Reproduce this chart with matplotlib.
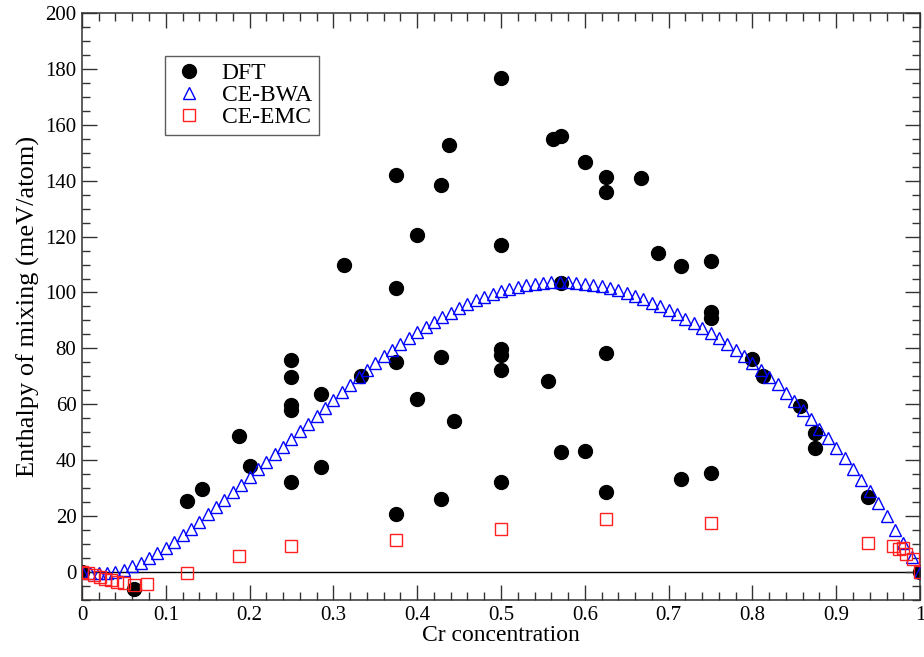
import matplotlib.pyplot as plt
import numpy as np

# DFT enthalpies of mixing (meV/atom)
dft_x = [0.0, 0.0625, 0.125, 0.1429, 0.1875, 0.2, 0.25, 0.25, 0.25, 0.25, 0.25,
         0.2857, 0.2857, 0.3125, 0.3333, 0.375, 0.375, 0.375, 0.375, 0.4, 0.4,
         0.4286, 0.4286, 0.4286, 0.4375, 0.4444, 0.5, 0.5, 0.5, 0.5, 0.5, 0.5,
         0.5556, 0.5625, 0.5714, 0.5714, 0.5714, 0.6, 0.6, 0.625, 0.625, 0.625, 0.625,
         0.6667, 0.6875, 0.7143, 0.7143, 0.75, 0.75, 0.75, 0.75, 0.8, 0.8125,
         0.8571, 0.875, 0.875, 0.9375, 1.0]
dft_y = [0.0, -6.0, 25.5, 29.6, 48.5, 38.0, 75.8, 69.9, 59.6, 58.0, 32.3,
         63.6, 37.4, 110.0, 70.3, 142.0, 101.5, 75.3, 20.7, 120.5, 61.8,
         138.6, 77.0, 26.0, 152.6, 53.9, 176.7, 117.1, 79.9, 77.5, 72.3, 32.3,
         68.3, 155.0, 155.8, 103.5, 42.9, 146.7, 43.2, 141.2, 135.8, 78.5, 28.5,
         141.0, 114.2, 109.6, 33.2, 111.1, 93.0, 91.0, 35.6, 76.3, 70.1,
         59.4, 49.6, 44.3, 27.0, 0.0]

# CE-BWA curve, one point every 0.01
bwa_x = np.round(np.arange(0, 101) * 0.01, 2)
bwa_y = [0.0, -0.3, -0.5, -0.4, 0.0, 0.8, 2.0, 3.4, 5.0, 6.7,
         8.6, 10.8, 13.1, 15.5, 18.0, 20.6, 23.2, 25.9, 28.6, 31.3,
         34.0, 36.7, 39.4, 42.1, 44.8, 47.5, 50.3, 53.1, 55.9, 58.7,
         61.5, 64.3, 67.0, 69.7, 72.3, 74.8, 77.2, 79.5, 81.7, 83.8,
         85.8, 87.7, 89.5, 91.2, 92.8, 94.3, 95.8, 97.2, 98.5, 99.6,
         100.6, 101.4, 102.1, 102.7, 103.2, 103.5, 103.7, 103.8, 103.7, 103.5,
         103.2, 102.8, 102.3, 101.6, 100.8, 99.9, 98.8, 97.6, 96.3, 95.0,
         93.6, 92.2, 90.6, 89.0, 87.3, 85.6, 83.6, 81.5, 79.3, 77.1,
         74.9, 72.4, 69.8, 67.1, 64.2, 61.2, 58.0, 54.7, 51.3, 47.9,
         44.5, 40.8, 37.0, 33.0, 29.0, 24.6, 20.0, 15.2, 10.3, 5.2,
         0.0]

# CE-EMC points
emc_x = [0.0, 0.007, 0.014, 0.021, 0.028, 0.035, 0.042, 0.05, 0.0625, 0.078,
         0.125, 0.1875, 0.25, 0.375, 0.5, 0.625, 0.75,
         0.9375, 0.968, 0.975, 0.98, 0.983, 0.992, 1.0]
emc_y = [0.0, -0.4, -1.2, -1.9, -2.5, -3.0, -3.4, -3.8, -4.6, -4.4,
         -0.3, 5.9, 9.4, 11.5, 15.3, 19.0, 17.4,
         10.4, 9.4, 8.3, 8.7, 6.4, 4.5, 0.0]

plt.rcParams['font.family'] = ['Liberation Serif', 'DejaVu Serif']

fig = plt.figure(figsize=(9.24, 6.57), dpi=100)
ax = fig.add_axes([0.0887, 0.0868, 0.907, 0.8935])

ax.axhline(0, color='black', linewidth=1.0, zorder=1)

ax.plot(dft_x, dft_y, 'o', color='black', markersize=10, label='DFT', zorder=2)
ax.plot(bwa_x, bwa_y, '^', color='blue', markerfacecolor='none', markersize=8.5,
        markeredgewidth=1.0, label='CE-BWA', zorder=3)
ax.plot(emc_x, emc_y, 's', color='#ff2020', markerfacecolor='none', markersize=8.5,
        markeredgewidth=1.0, label='CE-EMC', zorder=4)

ax.set_xlim(0, 1)
ax.set_ylim(-10, 200)
ax.set_xticks(np.arange(0, 1.01, 0.1))
ax.set_xticklabels(['0', '0.1', '0.2', '0.3', '0.4', '0.5', '0.6', '0.7', '0.8', '0.9', '1'])
ax.set_xticks(np.arange(0, 1.001, 0.02), minor=True)
ax.set_yticks(np.arange(0, 201, 20))
ax.set_yticks(np.arange(-10, 201, 5), minor=True)

ax.tick_params(which='both', direction='in', top=True, right=True, labelsize=15,
               width=1.0, color='#333333', pad=4)
ax.tick_params(which='major', length=11)
ax.tick_params(which='minor', length=5.5)
for s in ax.spines.values():
    s.set_linewidth(1.1)
    s.set_color('#333333')

ax.set_xlabel('Cr concentration', fontsize=17, labelpad=0)
ax.set_ylabel('Enthalpy of mixing (meV/atom)', fontsize=19, labelpad=4)

leg = ax.legend(loc='upper left', bbox_to_anchor=(0.099, 0.927), borderaxespad=0,
                fontsize=17, frameon=True, fancybox=False, edgecolor='#333333',
                labelspacing=0.02, handletextpad=0.7, borderpad=0.3, handlelength=1.4)
leg.get_frame().set_linewidth(1.0)

fig.savefig('out.png', dpi=100)
